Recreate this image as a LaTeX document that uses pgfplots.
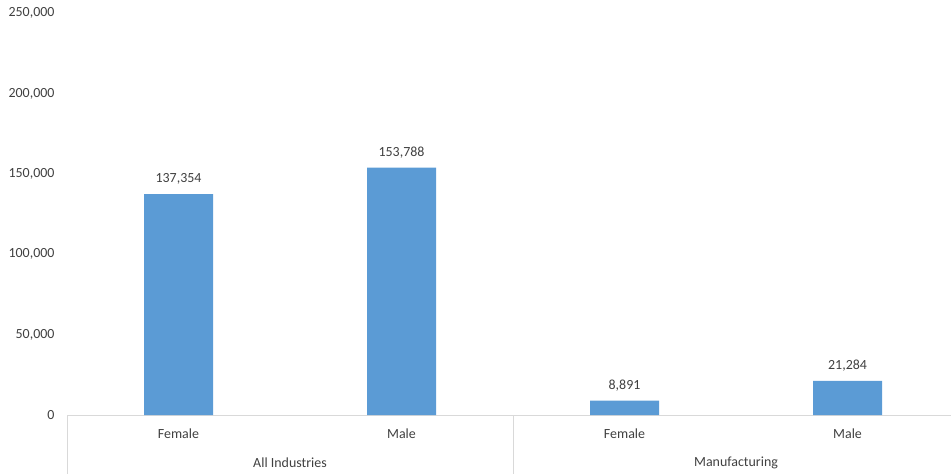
\documentclass[border=0pt]{standalone}
\usepackage{pgfplots}
\pgfplotsset{compat=1.18}
\usepackage{fontspec}
\setmainfont{Carlito}
\definecolor{barblue}{HTML}{5B9BD5}
\definecolor{ticktext}{HTML}{404040}
\definecolor{labeltext}{HTML}{404040}
\definecolor{axisgray}{HTML}{D9D9D9}
\newcommand{\chartfont}{\fontsize{14}{16}\selectfont}
\begin{document}
\begin{tikzpicture}
\path[use as bounding box] (0,0) rectangle (951bp,474bp);
\begin{axis}[
  at={(67bp,59bp)}, anchor=south west,
  scale only axis, width=884bp, height=402bp,
  xmin=-0.5, xmax=3.464, ymin=0, ymax=250000,
  clip=false,
  axis x line*=bottom, axis y line*=left,
  y axis line style={draw=none},
  x axis line style={axisgray, line width=0.75bp},
  major tick length=0,
  ytick={0,50000,100000,150000,200000,250000},
  scaled y ticks=false,
  /pgf/number format/.cd, fixed, precision=0, 1000 sep={,}, assume math mode=true, /pgfplots/.cd,
  yticklabel style={ticktext, font=\chartfont, xshift=-9bp},
  xtick={0,1,2,3}, xticklabels={Female,Male,Female,Male},
  xticklabel style={ticktext, anchor=center, yshift=-19bp, font=\chartfont},
  ybar, bar width=69bp,
  nodes near coords,
  nodes near coords style={labeltext, anchor=center, yshift=15bp, font=\chartfont},
]
\addplot[fill=barblue, draw=none] coordinates {(0,137354) (1,153788) (2,8891) (3,21284)};
% category group separators and group names
\draw[axisgray, line width=0.75bp] (axis cs:-0.5,0) -- ([yshift=-59bp]axis cs:-0.5,0);
\draw[axisgray, line width=0.75bp] (axis cs:1.5,0) -- ([yshift=-59bp]axis cs:1.5,0);
\node[ticktext, font=\chartfont] at ([yshift=-48bp]axis cs:0.5,0) {All Industries};
\node[ticktext, font=\chartfont] at ([yshift=-48bp]axis cs:2.5,0) {Manufacturing};
\end{axis}
\end{tikzpicture}
\end{document}
